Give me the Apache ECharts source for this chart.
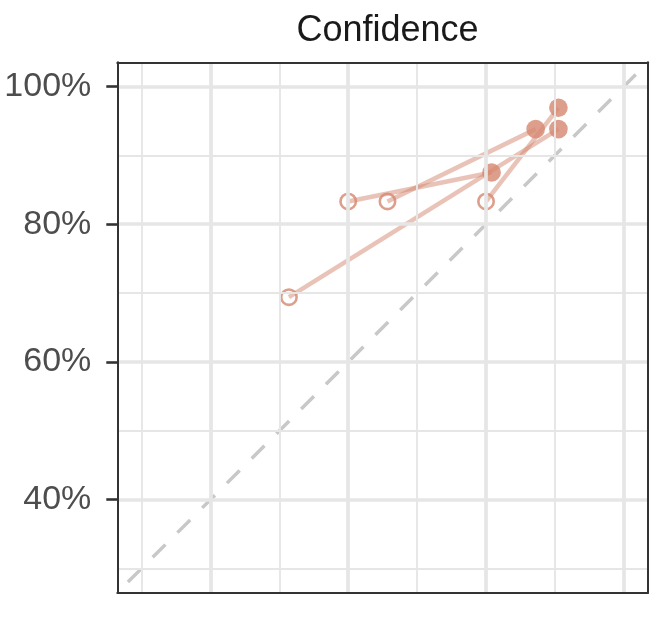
<!DOCTYPE html>
<html>
<head>
<meta charset="utf-8">
<script src="https://cdn.jsdelivr.net/npm/echarts@6/dist/echarts.min.js"></script>
<style>
  html, body { margin: 0; padding: 0; background: #fff; }
  #chart { width: 667px; height: 623px; }
</style>
</head>
<body>
<div id="chart"></div>
<script>
// open circles (first value) and filled dots (second value), one pair per item
var preX = [51.4, 60.0, 65.7, 80.0];
var preY = [69.4, 83.3, 83.3, 83.3];
var postX = [90.5, 80.8, 87.2, 90.5];
var postY = [93.8, 87.5, 93.8, 96.9];

var axisMin = 26.5, axisMax = 103.5;
var majorTicks = [40, 60, 80, 100];
var minorTicks = [30, 50, 70, 90];

var pointColor = '#D4876F';
var font = 'Liberation Sans';

function gridLines(axisKey, values, width) {
    return {
        type: 'line',
        data: [],
        z: 1,
        silent: true,
        markLine: {
            silent: true,
            symbol: ['none', 'none'],
            label: { show: false },
            animation: false,
            lineStyle: { color: '#E6E6E6', width: width, type: 'solid' },
            data: values.map(function (v) {
                var o = {};
                o[axisKey] = v;
                return o;
            })
        }
    };
}

var series = [];
series.push(gridLines('xAxis', minorTicks, 1.9));
series.push(gridLines('yAxis', minorTicks, 1.9));
series.push(gridLines('xAxis', majorTicks, 3.7));
series.push(gridLines('yAxis', majorTicks, 3.7));

// y = x reference
series.push({
    type: 'line',
    z: 2,
    silent: true,
    showSymbol: false,
    data: [[axisMin, axisMin], [axisMax, axisMax]],
    lineStyle: { color: '#C8C8C8', width: 3.5, type: [18, 17], dashOffset: 20, cap: 'butt' }
});

for (var i = 0; i < preX.length; i++) {
    series.push({
        type: 'line',
        z: 3,
        silent: true,
        showSymbol: false,
        data: [[preX[i], preY[i]], [postX[i], postY[i]]],
        lineStyle: { color: pointColor, opacity: 0.5, width: 4.5 }
    });
}

var openPts = [], fillPts = [];
for (var j = 0; j < preX.length; j++) {
    openPts.push([preX[j], preY[j]]);
    fillPts.push([postX[j], postY[j]]);
}

series.push({
    type: 'scatter',
    z: 4,
    symbol: 'circle',
    symbolSize: 15.4,
    data: openPts,
    itemStyle: { color: 'rgba(0,0,0,0)', borderColor: pointColor, borderWidth: 2.6 }
});
series.push({
    type: 'scatter',
    z: 4,
    symbol: 'circle',
    symbolSize: 18.7,
    data: fillPts,
    itemStyle: { color: pointColor }
});

var frameLine = { show: true, onZero: false, lineStyle: { color: '#333333', width: 2 } };

var myChart = echarts.init(document.getElementById('chart'));
var option = {
    animation: false,
    backgroundColor: '#ffffff',
    title: {
        text: 'Confidence',
        left: 382.5,
        top: 8,
        textAlign: 'center',
        textStyle: { fontFamily: font, fontSize: 36, fontWeight: 'normal', color: '#1A1A1A' }
    },
    grid: { left: 117.3, right: 19, top: 62.3, bottom: 30.3 },
    xAxis: [{
        type: 'value',
        min: axisMin,
        max: axisMax,
        z: 10,
        axisLine: frameLine,
        axisTick: { show: false },
        axisLabel: { show: false },
        splitLine: { show: false }
    }, {
        type: 'value',
        position: 'top',
        min: axisMin,
        max: axisMax,
        z: 10,
        axisLine: frameLine,
        axisTick: { show: false },
        axisLabel: { show: false },
        splitLine: { show: false }
    }],
    yAxis: [{
        type: 'value',
        min: axisMin,
        max: axisMax,
        z: 10,
        axisLine: frameLine,
        axisTick: {
            show: true,
            length: 11,
            customValues: majorTicks,
            lineStyle: { color: '#333333', width: 2.6 }
        },
        axisLabel: {
            customValues: majorTicks,
            margin: 26,
            fontFamily: font,
            fontSize: 34,
            color: '#4D4D4D',
            formatter: function (v) { return v + '%'; }
        },
        splitLine: { show: false }
    }, {
        type: 'value',
        position: 'right',
        min: axisMin,
        max: axisMax,
        z: 10,
        axisLine: frameLine,
        axisTick: { show: false },
        axisLabel: { show: false },
        splitLine: { show: false }
    }],
    series: series
};
myChart.setOption(option);
</script>
</body>
</html>
